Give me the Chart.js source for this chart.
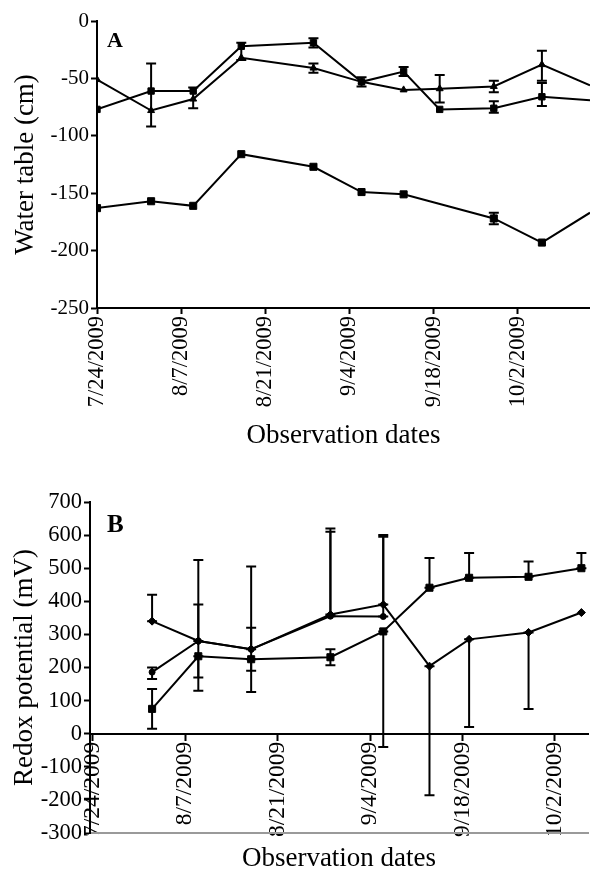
<!DOCTYPE html>
<html>
<head>
<meta charset="utf-8">
<title>Water table and redox potential</title>
<script src="https://cdn.jsdelivr.net/npm/chart.js@4.4.1/dist/chart.umd.min.js"></script>
<style>
body { margin: 0; background: #fff; overflow: hidden; }
canvas { display: block; }
</style>
</head>
<body>
<canvas id="chartA" width="590" height="460"></canvas>
<canvas id="chartB" width="590" height="415"></canvas>
<script>
// observation days, counted from 7/24/2009
var obsDays = [0, 9, 16, 24, 36, 44, 51, 57, 66, 74, 82];
var tickDays = [0, 14, 28, 42, 56, 70];
var tickLabels = ['7/24/2009', '8/7/2009', '8/21/2009', '9/4/2009', '9/18/2009', '10/2/2009'];

// panel A - water table (cm)
var waterSquare   = [-77, -61, -61, -22, -19, -53, -44, -77, -76, -66, -69];
var waterTriangle = [-51, -78, -68, -32, -41, -53, -60, -59, -57, -38, -56];
var waterDeep     = [-163, -157, -161, -116, -127, -149, -151, null, -172, -193, -167];
// error bar ends (low / high)
var waterSquareLo   = [null, -92, null, -34, -23, -57, -48, null, -80, -74, null];
var waterSquareHi   = [null, -37, null, -19, -15, -49, -40, null, -70, -54, null];
var waterTriangleLo = [null, null, -76, null, -45, null, null, -71, -62, -52, null];
var waterTriangleHi = [null, null, -58, null, -37, null, null, -47, -52, -26, null];
var waterDeepLo     = [null, null, null, null, null, null, null, null, -177, null, null];
var waterDeepHi     = [null, null, null, null, null, null, null, null, -167, null, null];

// panel B - redox potential (mV)
var redoxP = [null, 340, 280, 255, 360, 390, 204, 285, 306, 366];
var redoxQ = [null, 75, 234, 225, 231, 309, 441, 471, 474, 500];
var redoxR = [null, 186, 280, 255, 355, 354, null, null, null, null];
var redoxPLo = [null, 340, 170, 255, 360, 390, -186, 20, 75, null];
var redoxPHi = [null, 420, 390, 505, 620, 600, 204, 285, 306, null];
var redoxQLo = [null, 15, 130, 126, 207, -40, 441, 471, 474, 500];
var redoxQHi = [null, 135, 234, 225, 255, 309, 531, 546, 520, 546];
var redoxRLo = [null, 165, 280, 190, 355, 354, null, null, null, null];
var redoxRHi = [null, 200, 525, 320, 610, 595, null, null, null, null];

var serif = '"Liberation Serif", "DejaVu Serif", serif';

function pts(vals) {
  return vals.map(function(v, i) { return {x: obsDays[i], y: v}; });
}

function setDateTicks(scale) {
  scale.ticks = tickDays.map(function(d) { return {value: d}; });
}
function dateLabel(value) {
  var i = tickDays.indexOf(value);
  return i >= 0 ? tickLabels[i] : '';
}

// draws the error bars and the panel letter
var errorBarPlugin = {
  id: 'errorBars',
  afterDatasetsDraw: function(chart, args, opts) {
    var ctx = chart.ctx;
    var xs = chart.scales.x, ys = chart.scales.y;
    ctx.save();
    ctx.strokeStyle = '#000';
    ctx.lineWidth = 2;
    opts.bars.forEach(function(bar) {
      for (var i = 0; i < bar.lo.length; i++) {
        if (bar.lo[i] === null) continue;
        var px = xs.getPixelForValue(obsDays[i]);
        var p1 = ys.getPixelForValue(bar.lo[i]);
        var p2 = ys.getPixelForValue(bar.hi[i]);
        ctx.beginPath();
        ctx.moveTo(px, p1); ctx.lineTo(px, p2);
        ctx.moveTo(px - 5, p1); ctx.lineTo(px + 5, p1);
        ctx.moveTo(px - 5, p2); ctx.lineTo(px + 5, p2);
        ctx.stroke();
      }
    });
    ctx.fillStyle = '#000';
    ctx.font = 'bold ' + opts.letterSize + 'px ' + serif;
    ctx.textBaseline = 'alphabetic';
    ctx.fillText(opts.letter, chart.chartArea.left + opts.letterX, chart.chartArea.top + opts.letterY);
    ctx.restore();
  }
};

function lineSet(vals, style, radius) {
  return {
    data: pts(vals),
    xAxisID: 'x',
    borderColor: '#000',
    backgroundColor: '#000',
    borderWidth: 2,
    pointStyle: style,
    pointRadius: function(c) { return c.dataIndex === 10 ? 0 : radius; },
    pointBorderWidth: 1,
    spanGaps: true,
    fill: false,
    tension: 0
  };
}

// ---------- panel A ----------
new Chart(document.getElementById('chartA'), {
  type: 'line',
  data: {
    datasets: [
      lineSet(waterTriangle, 'triangle', 4),
      lineSet(waterSquare, 'rect', 4.5),
      lineSet(waterDeep, 'rect', 5)
    ]
  },
  options: {
    responsive: false,
    animation: false,
    layout: {autoPadding: false, padding: {top: 21, right: 0, left: 0, bottom: 0}},
    plugins: {
      legend: {display: false},
      tooltip: {enabled: false},
      errorBars: {
        letter: 'A', letterSize: 22, letterX: 10, letterY: 26,
        bars: [
          {lo: waterSquareLo, hi: waterSquareHi},
          {lo: waterTriangleLo, hi: waterTriangleHi},
          {lo: waterDeepLo, hi: waterDeepHi}
        ]
      }
    },
    scales: {
      x: {
        type: 'linear', min: 0, max: 82,
        afterBuildTicks: setDateTicks,
        afterFit: function(s) { s.height = 152; },
        ticks: {callback: dateLabel, minRotation: 90, maxRotation: 90, autoSkip: false,
                color: '#000', padding: 2, font: {family: serif, size: 22.5}},
        grid: {display: true, drawOnChartArea: false, color: '#000', tickLength: 6, tickWidth: 2},
        border: {color: '#000', width: 2},
        title: {display: true, text: 'Observation dates', color: '#000',
                font: {family: serif, size: 27}, padding: {top: 0, bottom: 8}}
      },
      y: {
        min: -250, max: 0,
        afterFit: function(s) { s.width = 97; },
        ticks: {stepSize: 50, color: '#000', padding: 2, font: {family: serif, size: 21}},
        grid: {display: true, drawOnChartArea: false, color: '#000', tickLength: 6, tickWidth: 2},
        border: {color: '#000', width: 2},
        title: {display: true, text: 'Water table (cm)', color: '#000',
                font: {family: serif, size: 27}, padding: {top: 10, bottom: 0}}
      }
    }
  },
  plugins: [errorBarPlugin]
});

// ---------- panel B ----------
new Chart(document.getElementById('chartB'), {
  type: 'line',
  data: {
    datasets: [
      lineSet(redoxP, 'rectRot', 4),
      lineSet(redoxQ, 'rect', 5),
      lineSet(redoxR, 'circle', 3)
    ]
  },
  options: {
    responsive: false,
    animation: false,
    layout: {autoPadding: false, padding: {top: 42, right: 2, left: 0, bottom: 0}},
    plugins: {
      legend: {display: false},
      tooltip: {enabled: false},
      errorBars: {
        letter: 'B', letterSize: 25, letterX: 17, letterY: 30,
        bars: [
          {lo: redoxPLo, hi: redoxPHi},
          {lo: redoxQLo, hi: redoxQHi},
          {lo: redoxRLo, hi: redoxRHi}
        ]
      }
    },
    scales: {
      x: {
        type: 'linear', min: -0.4, max: 75,
        position: {y: 0},
        afterBuildTicks: setDateTicks,
        afterFit: function(s) { s.height = 0; },
        ticks: {callback: dateLabel, minRotation: 90, maxRotation: 90, autoSkip: false,
                color: '#000', padding: 2, font: {family: serif, size: 23.5}},
        grid: {display: true, drawOnChartArea: false, color: '#000', tickLength: 6, tickWidth: 2},
        border: {color: '#000', width: 2}
      },
      x2: {
        type: 'linear', axis: 'x', position: 'bottom', min: -0.4, max: 75,
        afterFit: function(s) { s.height = 42; },
        ticks: {display: false},
        grid: {display: false},
        border: {color: '#9a9a9a', width: 2},
        title: {display: true, text: 'Observation dates', color: '#000',
                font: {family: serif, size: 27}, padding: {top: 0, bottom: 0}}
      },
      y: {
        min: -300, max: 700,
        afterFit: function(s) { s.width = 90; },
        ticks: {stepSize: 100, color: '#000', padding: 2, font: {family: serif, size: 22.5}},
        grid: {display: true, drawOnChartArea: false, color: '#000', tickLength: 6, tickWidth: 2},
        border: {color: '#000', width: 2},
        title: {display: true, text: 'Redox potential (mV)', color: '#000',
                font: {family: serif, size: 27}, padding: {top: 9, bottom: 0}}
      }
    }
  },
  plugins: [errorBarPlugin]
});
</script>
</body>
</html>
